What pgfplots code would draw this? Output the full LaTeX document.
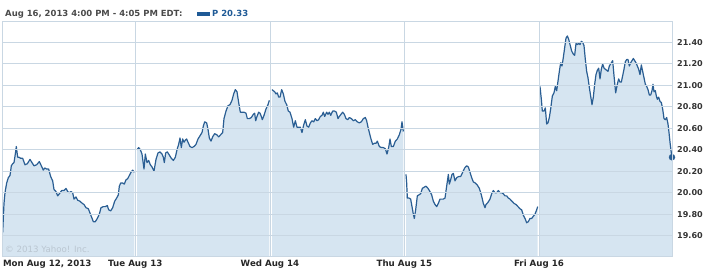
\documentclass[border=0pt]{standalone}
\usepackage{fontspec}
\setmainfont{DejaVu Sans}
\usepackage{pgfplots}
\pgfplotsset{compat=1.18}
\usepackage{pgfplotstable}
\definecolor{gridc}{HTML}{C9D7E3}
\definecolor{fillc}{HTML}{D6E5F1}
\definecolor{linec}{HTML}{2A5E93}
\definecolor{txtc}{HTML}{333333}
\definecolor{hdrc}{HTML}{4A4A4A}
\definecolor{bluec}{HTML}{1F5A96}
\definecolor{wmc}{HTML}{BAC6D1}

\pgfplotstableread{
x y
2 19.63
6 19.90
9 20.00
14 20.09
19 20.14
24 20.16
28 20.25
32 20.27
36 20.28
39 20.34
43 20.43
47 20.33
51 20.33
56 20.32
62 20.32
69 20.26
76 20.27
84 20.31
90 20.28
96 20.25
104 20.26
112 20.29
118 20.25
124 20.21
128 20.23
134 20.22
140 20.22
146 20.15
152 20.11
156 20.03
162 20.01
167 19.97
172 19.99
179 20.02
186 20.02
192 20.04
197 20.01
202 20.00
207 20.01
212 20.00
216 19.94
222 19.96
227 19.93
234 19.92
241 19.90
246 19.89
252 19.86
259 19.85
264 19.81
269 19.77
274 19.73
280 19.73
286 19.76
292 19.80
297 19.86
304 19.87
310 19.87
316 19.88
320 19.84
326 19.83
332 19.86
338 19.92
344 19.95
349 19.98
352 20.06
356 20.09
362 20.09
367 20.08
372 20.12
377 20.13
382 20.16
387 20.19
392 20.21
397 20.19
}\mon

\pgfplotstableread{
x y
405 20.40
410 20.42
415 20.40
420 20.36
426 20.22
430 20.36
435 20.28
440 20.30
445 20.26
450 20.24
456 20.20
462 20.31
468 20.37
474 20.38
480 20.36
484 20.33
487 20.28
491 20.37
496 20.38
502 20.35
508 20.32
514 20.30
520 20.33
525 20.40
530 20.45
534 20.51
538 20.42
542 20.50
546 20.47
550 20.49
554 20.50
558 20.47
564 20.43
570 20.42
576 20.43
582 20.45
588 20.50
594 20.53
600 20.56
604 20.62
608 20.66
614 20.65
618 20.59
622 20.51
627 20.48
632 20.52
638 20.55
644 20.54
650 20.52
656 20.54
662 20.56
666 20.69
672 20.76
678 20.81
684 20.82
690 20.86
695 20.92
700 20.96
705 20.94
710 20.84
715 20.75
720 20.75
726 20.75
732 20.74
736 20.69
742 20.69
748 20.70
754 20.73
758 20.74
761 20.67
765 20.71
770 20.75
774 20.74
778 20.71
781 20.68
786 20.72
792 20.78
798 20.82
802 20.86
}\tue

\pgfplotstableread{
x y
810 20.96
814 20.95
818 20.94
822 20.92
826 20.93
830 20.89
834 20.89
839 20.96
844 20.92
849 20.85
854 20.82
859 20.76
864 20.75
870 20.69
875 20.61
880 20.67
885 20.61
890 20.61
895 20.61
900 20.56
905 20.63
910 20.68
915 20.62
920 20.61
925 20.65
930 20.67
935 20.66
940 20.69
945 20.67
950 20.68
955 20.71
960 20.72
964 20.75
968 20.71
974 20.75
978 20.73
982 20.75
986 20.72
992 20.76
998 20.76
1003 20.75
1008 20.69
1012 20.71
1017 20.73
1022 20.75
1027 20.73
1032 20.69
1037 20.68
1042 20.70
1048 20.69
1054 20.67
1060 20.68
1066 20.66
1072 20.65
1078 20.66
1084 20.69
1090 20.70
1094 20.67
1098 20.61
1102 20.56
1107 20.50
1112 20.45
1117 20.46
1122 20.46
1126 20.48
1132 20.43
1138 20.42
1144 20.42
1150 20.41
1155 20.36
1160 20.42
1164 20.50
1168 20.43
1174 20.43
1180 20.48
1186 20.50
1192 20.54
1197 20.59
1200 20.66
1204 20.57
}\wed

\pgfplotstableread{
x y
1212 20.17
1214 20.09
1216 19.95
1221 19.95
1226 19.94
1230 19.87
1234 19.80
1237 19.76
1241 19.84
1246 19.97
1251 19.98
1256 19.99
1261 20.04
1266 20.05
1272 20.06
1278 20.04
1284 20.01
1289 19.98
1294 19.92
1299 19.89
1304 19.87
1309 19.90
1314 19.94
1319 19.94
1324 19.94
1329 19.95
1334 20.06
1339 20.17
1342 20.08
1346 20.12
1350 20.17
1354 20.18
1359 20.11
1364 20.14
1370 20.15
1376 20.15
1382 20.19
1388 20.23
1394 20.25
1399 20.24
1404 20.19
1409 20.14
1414 20.10
1420 20.09
1426 20.07
1432 20.04
1438 19.98
1444 19.90
1449 19.86
1452 19.89
1458 19.91
1464 19.94
1469 19.99
1474 20.02
1479 20.00
1484 20.00
1489 20.02
1494 20.00
1499 20.00
1504 19.99
1509 19.97
1514 19.97
1519 19.95
1524 19.94
1530 19.92
1536 19.90
1542 19.89
1548 19.87
1554 19.85
1559 19.84
1564 19.79
1569 19.76
1574 19.72
1579 19.73
1584 19.76
1589 19.76
1594 19.78
1599 19.80
1604 19.84
1607 19.87
}\thu

\pgfplotstableread{
x y
1614 20.99
1618 20.87
1621 20.76
1626 20.76
1630 20.79
1634 20.64
1638 20.65
1642 20.70
1646 20.78
1651 20.90
1656 20.93
1660 20.99
1664 20.95
1668 21.04
1672 21.13
1676 21.21
1680 21.18
1684 21.26
1688 21.35
1692 21.44
1696 21.46
1700 21.43
1704 21.38
1709 21.32
1714 21.29
1718 21.28
1722 21.39
1726 21.38
1730 21.39
1734 21.38
1738 21.41
1742 21.40
1746 21.37
1750 21.24
1754 21.13
1758 21.07
1762 20.98
1766 20.90
1770 20.82
1774 20.89
1778 21.01
1782 21.10
1786 21.14
1790 21.16
1794 21.06
1798 21.15
1802 21.20
1806 21.16
1810 21.15
1814 21.14
1818 21.13
1822 21.18
1826 21.20
1832 21.23
1836 21.09
1841 20.93
1846 21.01
1850 21.06
1854 21.03
1858 21.03
1862 21.09
1866 21.15
1870 21.22
1874 21.24
1878 21.24
1882 21.18
1886 21.21
1890 21.23
1894 21.25
1898 21.23
1902 21.21
1906 21.18
1910 21.15
1914 21.10
1918 21.19
1922 21.13
1926 21.07
1930 21.01
1934 20.99
1938 20.96
1942 20.91
1946 20.91
1950 20.95
1953 21.01
1956 20.94
1960 20.95
1963 20.90
1966 20.87
1970 20.89
1974 20.85
1978 20.84
1982 20.78
1986 20.69
1990 20.68
1994 20.70
1998 20.64
2001 20.56
2004 20.47
2008 20.37
2010 20.33
}\fri

\begin{document}
\begin{tikzpicture}
\path[use as bounding box] (0,0) rectangle (708bp,274bp);
\begin{axis}[
  at={(2bp,18bp)}, anchor=south west,
  scale only axis, width=670bp, height=234bp,
  xmin=0, xmax=2010, ymin=19.41, ymax=21.59,
  xtick={0,400,804,1207,1611},
  xticklabels={{\makebox[0pt][l]{\hspace{1bp}Mon Aug 12, 2013}},{Tue Aug 13},{Wed Aug 14},{Thu Aug 15},{Fri Aug 16}},
  ytick={19.6,19.8,20.0,20.2,20.4,20.6,20.8,21.0,21.2,21.4},
  yticklabel pos=right,
  yticklabel style={/pgf/number format/fixed, /pgf/number format/fixed zerofill, /pgf/number format/precision=2, anchor=west, inner sep=0pt, xshift=5bp, font=\bfseries\fontsize{8.1}{9.6}\selectfont},
  xticklabel style={anchor=north, inner sep=0pt, yshift=-4bp, text=black!85, font=\bfseries\fontsize{8.7}{10}\selectfont},
  major tick length=0pt,
  grid=major,
  major grid style={gridc, line width=1bp},
  axis line style={gridc, line width=1bp},
  axis on top,
  clip mode=individual,
  tick label style={text=txtc},
  /pgf/number format/assume math mode=true,
]
\addplot[fill=fillc, draw=none] table {\mon} \closedcycle;
\addplot[fill=fillc, draw=none] table {\tue} \closedcycle;
\addplot[fill=fillc, draw=none] table {\wed} \closedcycle;
\addplot[fill=fillc, draw=none] table {\thu} \closedcycle;
\addplot[fill=fillc, draw=none] table {\fri} \closedcycle;
\addplot[linec, line width=1.2bp, line join=round] table {\mon};
\addplot[linec, line width=1.2bp, line join=round] table {\tue};
\addplot[linec, line width=1.2bp, line join=round] table {\wed};
\addplot[linec, line width=1.2bp, line join=round] table {\thu};
\addplot[linec, line width=1.2bp, line join=round] table {\fri};
\addplot[only marks, mark=*, mark size=3bp, linec] coordinates {(2010,20.33)};
\end{axis}
\node[anchor=base west, inner sep=0pt, text=hdrc, font=\bfseries\fontsize{8.5}{10}\selectfont] at (5bp,257bp) {Aug 16, 2013 4:00 PM - 4:05 PM EDT:};
\fill[bluec] (197bp,258bp) rectangle (210bp,261.7bp);
\node[anchor=base west, inner sep=0pt, text=bluec, font=\bfseries\fontsize{8.5}{10}\selectfont] at (212bp,257bp) {P 20.33};
\node[anchor=base west, inner sep=0pt, text=wmc, font=\fontsize{8.7}{10}\selectfont] at (5bp,22bp) {© 2013 Yahoo! Inc.};
\end{tikzpicture}
\end{document}
